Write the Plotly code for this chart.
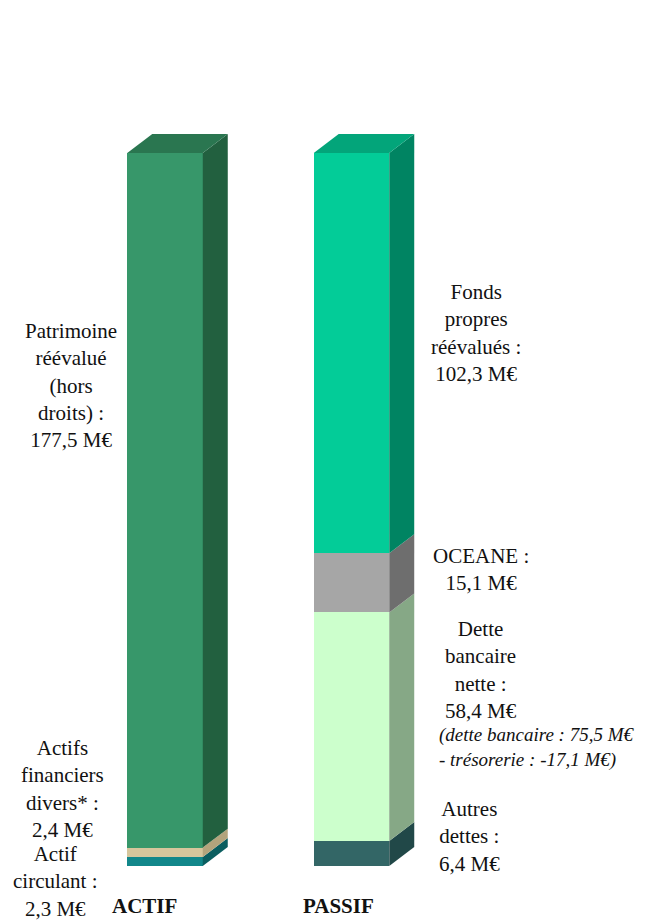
import plotly.graph_objects as go

# ---- data ----
actif_labels = ["Actif circulant", "Actifs financiers divers*", "Patrimoine réévalué (hors droits)"]
actif_values = [2.3, 2.4, 177.5]
passif_labels = ["Autres dettes", "Dette bancaire nette", "OCEANE", "Fonds propres réévalués"]
passif_values = [6.4, 58.4, 15.1, 102.3]
categories = ["ACTIF", "PASSIF"]

actif_front = ["#12878a", "#d6c69c", "#37976a"]
actif_side = ["#0b5e60", "#b3a47c", "#22603f"]
actif_top = "#2a7650"
passif_front = ["#336666", "#ccffcc", "#a6a6a6", "#03cc98"]
passif_side = ["#214848", "#86a886", "#6e6e6e", "#008462"]
passif_top = "#03a57a"

W, H = 664, 924
bar_w = 0.405
dx = 0.134      # depth offset in x units
dy = 4.85       # depth offset in y units
y_range = [-14.82, 221.29]
x_range = [-0.885, 2.676]

fig = go.Figure()

def add_stack(xi, values, names, fronts, sides, top_col):
    base = 0.0
    xl, xr = xi - bar_w / 2, xi + bar_w / 2
    for v, n, fc, sc in zip(values, names, fronts, sides):
        fig.add_trace(go.Bar(x=[xi], y=[v], base=[base], width=bar_w, name=n,
                             marker=dict(color=fc, line=dict(width=0)), showlegend=False))
        y0, y1 = base, base + v
        fig.add_trace(go.Scatter(
            x=[xr, xr + dx, xr + dx, xr, xr], y=[y0, y0 + dy, y1 + dy, y1, y0],
            fill="toself", fillcolor=sc, mode="lines", line=dict(width=0, color=sc),
            showlegend=False, hoverinfo="skip"))
        base = y1
    fig.add_trace(go.Scatter(
        x=[xl, xl + dx, xr + dx, xr, xl], y=[base, base + dy, base + dy, base, base],
        fill="toself", fillcolor=top_col, mode="lines", line=dict(width=0, color=top_col),
        showlegend=False, hoverinfo="skip"))

add_stack(0, actif_values, actif_labels, actif_front, actif_side, actif_top)
add_stack(1, passif_values, passif_labels, passif_front, passif_side, passif_top)

def fmt(v):
    return f"{v:.1f}".replace(".", ",") + " M€"

FONT = "Liberation Serif"
def ann(text, x, y, size=21, align="center", xanchor="center", bold=False, italic=False):
    fig.add_annotation(text=text, x=x / W, y=1 - y / H, xref="paper", yref="paper",
                       showarrow=False, align=align, xanchor=xanchor, yanchor="middle",
                       font=dict(family=FONT, size=size, color="#111111",
                                 weight="bold" if bold else "normal",
                                 style="italic" if italic else "normal"))

ann("Patrimoine<br>réévalué<br>(hors<br>droits) :<br>" + fmt(actif_values[2]), 71, 385)
ann("Actifs<br>financiers<br>divers* :<br>" + fmt(actif_values[1]), 62, 789)
ann("Actif<br>circulant :<br>" + fmt(actif_values[0]), 56, 881)
ann("Fonds<br>propres<br>réévalués :<br>" + fmt(passif_values[3]), 476, 333)
ann("OCEANE :<br>" + fmt(passif_values[2]), 481, 569)
ann("Dette<br>bancaire<br>nette :<br>" + fmt(passif_values[1]), 481, 670)
ann("(dette bancaire : 75,5 M€<br>- trésorerie : -17,1 M€)", 437, 747, size=19,
    align="left", xanchor="left", italic=True)
ann("Autres<br>dettes :<br>" + fmt(passif_values[0]), 469, 836)
ann(categories[0], 144, 906, size=21, bold=True)
ann(categories[1], 338, 906, size=21, bold=True)

fig.update_layout(
    width=W, height=H, margin=dict(l=0, r=0, t=0, b=0),
    paper_bgcolor="white", plot_bgcolor="white", barmode="overlay", bargap=0,
    xaxis=dict(range=x_range, visible=False, fixedrange=True),
    yaxis=dict(range=y_range, visible=False, fixedrange=True),
    showlegend=False,
)

fig.write_html("out.html", config={"displayModeBar": False},
               post_script="document.body.style.margin='0px';")
